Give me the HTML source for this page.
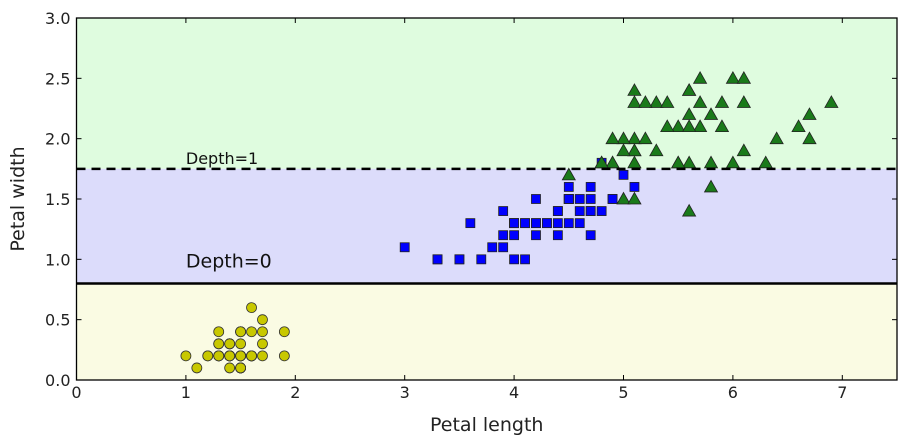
<!DOCTYPE html>
<html><head><meta charset="utf-8"><style>
html,body{margin:0;padding:0;background:#fff;}
svg{display:block;font-family:"DejaVu Sans","Liberation Sans",sans-serif;}
</style></head><body>
<svg id="chart" width="910" height="441"></svg>
<script>
const setosaLen=[1.4,1.4,1.3,1.5,1.4,1.7,1.4,1.5,1.4,1.5,1.5,1.6,1.4,1.1,1.2,1.5,1.3,1.4,1.7,1.5,1.7,1.5,1.0,1.7,1.9,1.6,1.6,1.5,1.4,1.6,1.6,1.5,1.5,1.4,1.5,1.2,1.3,1.5,1.3,1.5,1.3,1.3,1.3,1.6,1.9,1.4,1.6,1.4,1.5,1.4];
const setosaWid=[0.2,0.2,0.2,0.2,0.2,0.4,0.3,0.2,0.2,0.1,0.2,0.2,0.1,0.1,0.2,0.4,0.4,0.3,0.3,0.3,0.2,0.4,0.2,0.5,0.2,0.2,0.4,0.2,0.2,0.2,0.2,0.4,0.1,0.2,0.1,0.2,0.2,0.1,0.2,0.2,0.3,0.3,0.2,0.6,0.4,0.3,0.2,0.2,0.2,0.2];
const versiLen=[4.7,4.5,4.9,4.0,4.6,4.5,4.7,3.3,4.6,3.9,3.5,4.2,4.0,4.7,3.6,4.4,4.5,4.1,4.5,3.9,4.8,4.0,4.9,4.7,4.3,4.4,4.8,5.0,4.5,3.5,3.8,3.7,3.9,5.1,4.5,4.5,4.7,4.4,4.1,4.0,4.4,4.6,4.0,3.3,4.2,4.2,4.2,4.3,3.0,4.1];
const versiWid=[1.4,1.5,1.5,1.3,1.5,1.3,1.6,1.0,1.3,1.4,1.0,1.5,1.0,1.4,1.3,1.4,1.5,1.0,1.5,1.1,1.8,1.3,1.5,1.2,1.3,1.4,1.4,1.7,1.5,1.0,1.1,1.0,1.2,1.6,1.5,1.6,1.5,1.3,1.3,1.3,1.2,1.4,1.2,1.0,1.3,1.2,1.3,1.3,1.1,1.3];
const virgLen=[6.0,5.1,5.9,5.6,5.8,6.6,4.5,6.3,5.8,6.1,5.1,5.3,5.5,5.0,5.1,5.3,5.5,6.7,6.9,5.0,5.7,4.9,6.7,4.9,5.7,6.0,4.8,4.9,5.6,5.8,6.1,6.4,5.6,5.1,5.6,6.1,5.6,5.5,4.8,5.4,5.6,5.1,5.1,5.9,5.7,5.2,5.0,5.2,5.4,5.1];
const virgWid=[2.5,1.9,2.1,1.8,2.2,2.1,1.7,1.8,1.8,2.5,2.0,1.9,2.1,2.0,2.4,2.3,1.8,2.2,2.3,1.5,2.3,2.0,2.0,1.8,2.1,1.8,1.8,1.8,2.1,1.6,1.9,2.0,2.2,1.5,1.4,2.3,2.4,1.8,1.8,2.1,2.4,2.3,1.9,2.3,2.5,2.3,1.9,2.0,2.3,1.8];
const xTicks=[0,1,2,3,4,5,6,7];
const yTicks=[0.0,0.5,1.0,1.5,2.0,2.5,3.0];
const splits=[0.8,1.75];
const splitLabels=["Depth=0","Depth=1"];

const L=76.5,R=897,T=18,B=380,XMAX=7.5,YMAX=3;
const sx=v=>L+v/XMAX*(R-L), sy=v=>B-v/YMAX*(B-T);
const NS="http://www.w3.org/2000/svg", svg=document.getElementById('chart');
function mk(tag,attrs,parent){const e=document.createElementNS(NS,tag);for(const k in attrs)e.setAttribute(k,attrs[k]);(parent||svg).appendChild(e);return e;}

let r=mk('rect',{x:L,y:sy(YMAX),width:R-L,height:sy(splits[1])-sy(YMAX),fill:'#dffcdf'});


r=mk('rect',{x:L,y:sy(splits[1]),width:R-L,height:sy(splits[0])-sy(splits[1]),fill:'#dcdcfb'});


r=mk('rect',{x:L,y:sy(splits[0]),width:R-L,height:B-sy(splits[0]),fill:'#fafbe3'});



const gS=mk('g',{});


setosaLen.forEach((v,i)=>{const c=mk('circle',{cx:sx(v),cy:sy(setosaWid[i]),r:5,fill:'#c8c800',stroke:'#333','stroke-width':0.8},gS);

});
const gV=mk('g',{});


versiLen.forEach((v,i)=>{const c=mk('rect',{x:sx(v)-4.5,y:sy(versiWid[i])-4.5,width:9,height:9,fill:'#0000ff',stroke:'#222','stroke-width':0.8},gV);

});
const gG=mk('g',{});


virgLen.forEach((v,i)=>{const x=sx(v),y=sy(virgWid[i]);const c=mk('polygon',{points:`${x},${y-6.5} ${x+6.5},${y+5} ${x-6.5},${y+5}`,fill:'#1a7a1a',stroke:'#222','stroke-width':0.8},gG);

});

let ln=mk('line',{x1:L,x2:R,y1:sy(splits[0]),y2:sy(splits[0]),stroke:'#000','stroke-width':2.5});


ln=mk('line',{x1:L,x2:R,y1:sy(splits[1]),y2:sy(splits[1]),stroke:'#000','stroke-width':2.5,'stroke-dasharray':'9,6'});


let t=mk('text',{x:sx(1.0),y:sy(1.0)+8,'font-size':19,fill:'#111'});t.textContent=splitLabels[0];


t=mk('text',{x:sx(1.0),y:sy(1.8)+1,'font-size':16,fill:'#111'});t.textContent=splitLabels[1];



const fr=mk('rect',{x:L,y:T,width:R-L,height:B-T,fill:'none',stroke:'#000','stroke-width':1.3});



xTicks.forEach(v=>{const x=sx(v);mk('line',{x1:x,x2:x,y1:B,y2:B-5,stroke:'#000'});mk('line',{x1:x,x2:x,y1:T,y2:T+5,stroke:'#000'});
const tt=mk('text',{x:x,y:B+18,'text-anchor':'middle','font-size':16,fill:'#222'});tt.textContent=v;

});
yTicks.forEach(v=>{const y=sy(v);mk('line',{x1:L,x2:L+5,y1:y,y2:y,stroke:'#000'});mk('line',{x1:R,x2:R-5,y1:y,y2:y,stroke:'#000'});
const tt=mk('text',{x:L-6,y:y+6,'text-anchor':'end','font-size':16,fill:'#222'});tt.textContent=v.toFixed(1);

});

t=mk('text',{x:(L+R)/2,y:431,'text-anchor':'middle','font-size':19,fill:'#222'});t.textContent='Petal length';


t=mk('text',{x:0,y:0,'text-anchor':'middle','font-size':19,fill:'#222',transform:`translate(24,${(T+B)/2}) rotate(-90)`});t.textContent='Petal width';


</script>
</body></html>
